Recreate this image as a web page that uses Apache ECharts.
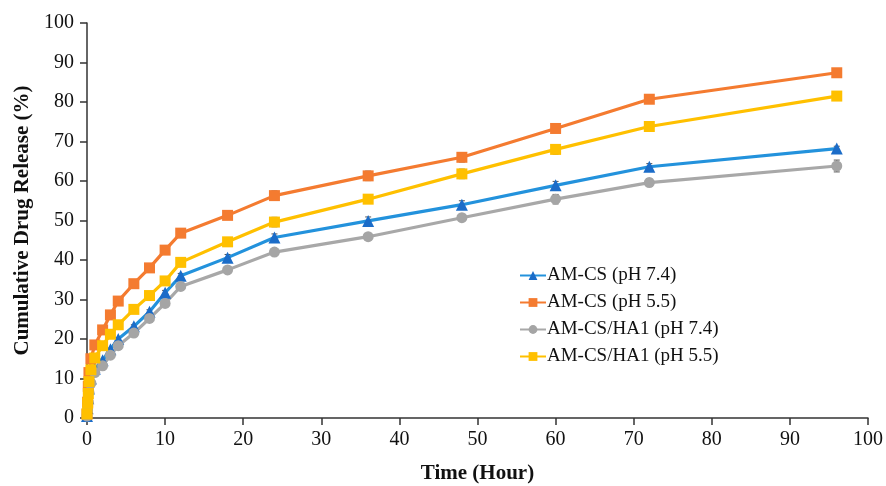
<!DOCTYPE html>
<html>
<head>
<meta charset="utf-8">
<script src="https://cdn.jsdelivr.net/npm/echarts@6/dist/echarts.min.js"></script>
<style>
  html, body { margin: 0; padding: 0; background: #fff; }
  #chart { width: 886px; height: 486px; }
</style>
</head>
<body>
<div id="chart"></div>
<script>
  // time points (hour)
  var times = [0, 0.083, 0.167, 0.25, 0.5, 1, 2, 3, 4, 6, 8, 10, 12, 18, 24, 36, 48, 60, 72, 96];

  // cumulative release (%)
  var amcs74 = [0.5, 2.5, 5, 7.5, 10, 12.5, 14.6, 17.4, 20, 23.2, 26.9, 31.7, 36, 40.6, 45.7, 49.9, 54, 58.9, 63.6, 68.2];
  var amcs55 = [1, 4, 8, 11.5, 15, 18.5, 22.3, 26.1, 29.6, 34, 38, 42.5, 46.8, 51.3, 56.3, 61.3, 66, 73.3, 80.7, 87.4];
  var amcsHa74 = [0.5, 2, 4, 6.5, 8.8, 11.5, 13.2, 15.9, 18.3, 21.5, 25.2, 29, 33.3, 37.5, 42, 45.9, 50.7, 55.4, 59.6, 63.8];
  var amcsHa55 = [1, 3.7, 6.2, 9.2, 12.2, 15.2, 18.3, 21.2, 23.6, 27.5, 31, 34.7, 39.4, 44.6, 49.6, 55.4, 61.8, 68, 73.8, 81.5];

  // error bar half widths (±)
  var err74 = [0, 0, 0, 0, 0, 0, 0.3, 0.3, 0.4, 0.4, 0.5, 0.6, 0.6, 0.8, 0.9, 1.0, 1.0, 1.0, 0.8, 0.6];
  var err55 = [0, 0, 0, 0, 0, 0, 0.3, 0.3, 0.4, 0.4, 0.5, 0.6, 0.8, 0.9, 1.2, 1.2, 1.2, 0.8, 0.6, 0.7];
  var errHa74 = [0, 0, 0, 0, 0, 0, 0.3, 0.3, 0.4, 0.4, 0.4, 0.5, 0.5, 0.6, 0.6, 0.7, 0.8, 1.2, 1.0, 1.5];
  var errHa55 = [0, 0, 0, 0, 0, 0, 0.3, 0.3, 0.4, 0.4, 0.5, 0.6, 0.7, 0.8, 1.2, 1.0, 1.2, 1.2, 0.9, 0.7];

  var names = ['AM-CS (pH 7.4)', 'AM-CS (pH 5.5)', 'AM-CS/HA1 (pH 7.4)', 'AM-CS/HA1 (pH 5.5)'];

  var font = 'Liberation Serif';

  function pairs(vals) {
    return times.map(function (t, i) { return [t, vals[i]]; });
  }

  function errBars(vals, errs) {
    return {
      type: 'custom',
      silent: true,
      z: 1,
      data: times.map(function (t, i) { return [t, vals[i], errs[i]]; }),
      renderItem: function (params, api) {
        var x = api.value(0), y = api.value(1), e = api.value(2);
        if (!e) return null;
        var hi = api.coord([x, y + e]);
        var lo = api.coord([x, y - e]);
        var st = { stroke: '#555', lineWidth: 1 };
        return {
          type: 'group',
          children: [
            { type: 'line', shape: { x1: hi[0], y1: hi[1], x2: lo[0], y2: lo[1] }, style: st },
            { type: 'line', shape: { x1: hi[0] - 3, y1: hi[1], x2: hi[0] + 3, y2: hi[1] }, style: st },
            { type: 'line', shape: { x1: lo[0] - 3, y1: lo[1], x2: lo[0] + 3, y2: lo[1] }, style: st }
          ]
        };
      }
    };
  }

  function lineSeries(name, vals, lineColor, markColor, symbol, size) {
    return {
      name: name,
      type: 'line',
      data: pairs(vals),
      symbol: symbol,
      symbolSize: size,
      z: 3,
      lineStyle: { color: lineColor, width: 3.2 },
      itemStyle: { color: markColor },
      emphasis: { disabled: true }
    };
  }

  var chart = echarts.init(document.getElementById('chart'));

  chart.setOption({
    animation: false,
    backgroundColor: '#fff',
    grid: { left: 87, right: 18, top: 23, bottom: 68, outerBoundsMode: 'none' },
    legend: {
      data: names,
      orient: 'vertical',
      left: 514,
      top: 261,
      itemGap: 8,
      itemWidth: 26,
      itemHeight: 11,
      textStyle: { fontFamily: font, fontSize: 19, color: '#111', padding: [0, 0, 0, -4] }
    },
    xAxis: {
      type: 'value',
      min: 0,
      max: 100,
      interval: 10,
      name: 'Time (Hour)',
      nameLocation: 'middle',
      nameGap: 45,
      nameTextStyle: { fontFamily: font, fontSize: 21, fontWeight: 'bold', color: '#111' },
      axisLine: { lineStyle: { color: '#333', width: 1.5 } },
      axisTick: { show: true, inside: false, length: 7, lineStyle: { color: '#333', width: 1.5 } },
      axisLabel: { margin: 12, fontFamily: font, fontSize: 20, color: '#111' },
      splitLine: { show: false }
    },
    yAxis: {
      type: 'value',
      min: 0,
      max: 100,
      interval: 10,
      name: 'Cumulative Drug Release (%)',
      nameLocation: 'middle',
      nameGap: 52,
      nameTextStyle: { fontFamily: font, fontSize: 21, fontWeight: 'bold', color: '#111' },
      axisLine: { show: true, lineStyle: { color: '#333', width: 1.5 } },
      axisTick: { show: true, inside: false, length: 7, lineStyle: { color: '#333', width: 1.5 } },
      axisLabel: { margin: 13, fontFamily: font, fontSize: 20, color: '#111' },
      splitLine: { show: false }
    },
    series: [
      errBars(amcs74, err74),
      errBars(amcs55, err55),
      errBars(amcsHa74, errHa74),
      errBars(amcsHa55, errHa55),
      lineSeries(names[0], amcs74, '#2392dc', '#1b6cc8', 'triangle', 12),
      lineSeries(names[1], amcs55, '#f47b30', '#f47b30', 'rect', 11),
      lineSeries(names[2], amcsHa74, '#a8a8a8', '#a5a5a5', 'circle', 11),
      lineSeries(names[3], amcsHa55, '#ffc000', '#ffc000', 'rect', 11)
    ]
  });
</script>
</body>
</html>
